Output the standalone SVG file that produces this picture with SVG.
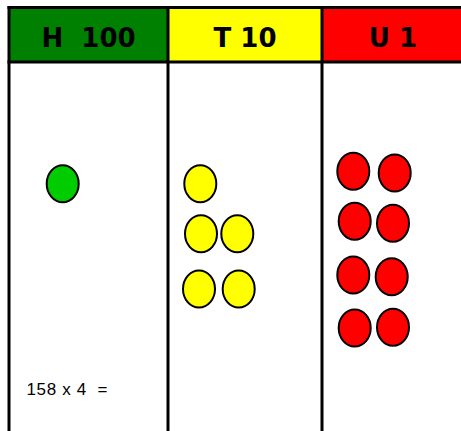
<svg xmlns="http://www.w3.org/2000/svg" width="461" height="431" viewBox="0 0 461 431">
<style>
.hdr{font-family:"DejaVu Sans",sans-serif;font-size:26px;font-weight:bold;text-anchor:middle;fill:#000}
.line{stroke:#000;stroke-width:3;fill:none}
.c{stroke:#000;stroke-width:2}
.g{fill:#00cc00}.y{fill:#ffff00}.r{fill:#ff0000}
.lbl{font-family:"Liberation Sans",sans-serif;font-size:17px;fill:#000}
</style>
<rect width="461" height="431" fill="#fff"/>
<g id="header-H">
<rect x="9" y="7" width="159" height="55" fill="#008000"/>
<text class="hdr" x="88.5" y="46.5" xml:space="preserve">H  100</text>
</g>
<g id="header-T">
<rect x="168" y="7" width="154" height="55" fill="#ffff00"/>
<text class="hdr" x="245" y="46.5">T 10</text>
</g>
<g id="header-U">
<rect x="322" y="7" width="139" height="55" fill="#ff0000"/>
<text class="hdr" x="393" y="46.5">U 1</text>
</g>
<g id="grid">
<line class="line" x1="7.5" y1="7.5" x2="461" y2="7.5"/>
<line class="line" x1="7.5" y1="62" x2="461" y2="62"/>
<line class="line" x1="9" y1="6" x2="9" y2="431"/>
<line class="line" x1="168" y1="6" x2="168" y2="431"/>
<line class="line" x1="322" y1="6" x2="322" y2="431"/>
</g>
<g id="hundreds">
<ellipse class="c g" cx="62.7" cy="183.7" rx="16" ry="18.5"/>
</g>
<g id="tens">
<ellipse class="c y" cx="200.3" cy="183.7" rx="16" ry="18.5"/>
<ellipse class="c y" cx="201" cy="233.7" rx="16" ry="18.5"/>
<ellipse class="c y" cx="237.3" cy="233.7" rx="16" ry="18.5"/>
<ellipse class="c y" cx="199" cy="289" rx="16" ry="18.5"/>
<ellipse class="c y" cx="238.7" cy="289" rx="16" ry="18.5"/>
</g>
<g id="units">
<ellipse class="c r" cx="353.3" cy="171.3" rx="16" ry="18.5"/>
<ellipse class="c r" cx="394.7" cy="173" rx="16" ry="18.5"/>
<ellipse class="c r" cx="354.7" cy="221.3" rx="16" ry="18.5"/>
<ellipse class="c r" cx="393" cy="223.3" rx="16" ry="18.5"/>
<ellipse class="c r" cx="353.3" cy="275" rx="16" ry="18.5"/>
<ellipse class="c r" cx="391.7" cy="276.7" rx="16" ry="18.5"/>
<ellipse class="c r" cx="354.7" cy="328" rx="16" ry="18.5"/>
<ellipse class="c r" cx="393" cy="327.3" rx="16" ry="18.5"/>
</g>
<g id="sum">
<text class="lbl" x="26.5" y="395" textLength="81" xml:space="preserve">158 x 4  =</text>
</g>
</svg>
